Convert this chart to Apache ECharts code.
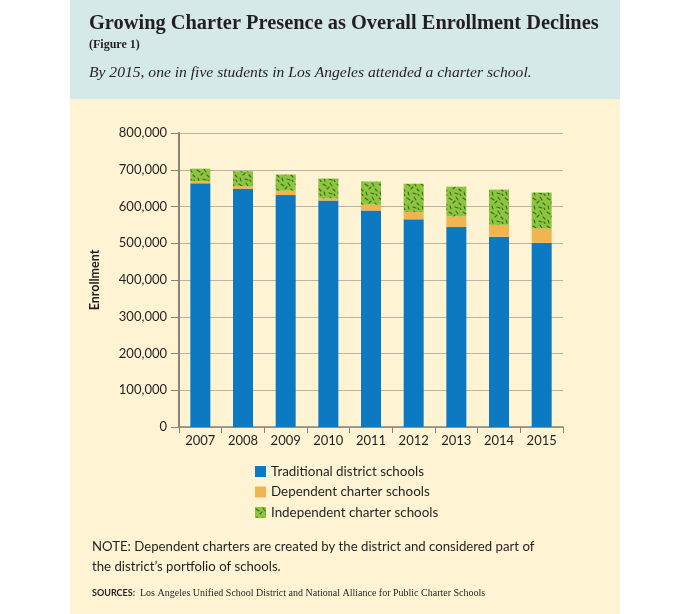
<!DOCTYPE html>
<html><head><meta charset="utf-8">
<script src="https://cdn.jsdelivr.net/npm/echarts@6/dist/echarts.min.js"></script>
<style>html,body{margin:0;padding:0;background:#fff}#c{width:690px;height:614px}</style>
</head><body><div id="c"></div>
<script>
const years = ['2007','2008','2009','2010','2011','2012','2013','2014','2015'];
const traditional = [663000, 648000, 631000, 616000, 589000, 565000, 544000, 518000, 501000];
const dependent = [6000, 7000, 12000, 6000, 16000, 20000, 29000, 32000, 39000];
const independent = [34000, 41000, 44000, 54000, 63000, 77000, 81000, 96000, 98000];
const seriesNames = ['Traditional district schools','Dependent charter schools','Independent charter schools'];
const yTicks = [0,100000,200000,300000,400000,500000,600000,700000,800000];

function makePattern(){
  const c = document.createElement('canvas');
  c.width = 14; c.height = 14;
  const g = c.getContext('2d');
  g.fillStyle = '#8cc540'; g.fillRect(0,0,14,14);
  g.strokeStyle = '#3d6a1c'; g.lineWidth = 1.1; g.lineCap='round';
  const segs = [[1,2,4,4],[8,1,10,4],[5,7,7,5],[11,7,13,9],[2,10,3,13],[7,11,10,12],[12,12,13,13.8]];
  segs.forEach(s=>{g.beginPath();g.moveTo(s[0],s[1]);g.lineTo(s[2],s[3]);g.stroke();});
  return {image:c, repeat:'repeat'};
}
const greenPattern = makePattern();

const chart = echarts.init(document.getElementById('c'), null, {renderer:'canvas'});
const txt = '#231f20';
const sans = 'Lato, "Open Sans", sans-serif';
chart.setOption({
  backgroundColor:'#ffffff',
  animation:false,
  graphic:[
    {type:'rect', z:-10, shape:{x:70,y:0,width:550,height:99}, style:{fill:'#d5e9e8'}},
    {type:'rect', z:-10, shape:{x:70,y:99,width:550,height:515}, style:{fill:'#fef4d4'}},
    {type:'text', left:89, top:14, style:{text:'Growing Charter Presence as Overall Enrollment Declines', font:'bold 20.4px "Liberation Serif", serif', fill:txt}},
    {type:'text', left:89, top:39, style:{text:'(Figure 1)', font:'bold 12px "Liberation Serif", serif', fill:txt}},
    {type:'text', left:89, top:65, style:{text:'By 2015, one in five students in Los Angeles attended a charter school.', font:'italic 15.6px "Liberation Serif", serif', fill:txt}},
    {type:'text', left:92, top:540, style:{text:'NOTE: Dependent charters are created by the district and considered part of', font:'13.2px '+sans, fill:txt}},
    {type:'text', left:92, top:560, style:{text:'the district\u2019s portfolio of schools.', font:'13.2px '+sans, fill:txt}},
    {type:'text', left:92, top:589, style:{text:'SOURCES:', font:'bold 9px '+sans, fill:txt}},
    {type:'text', left:140, top:588, style:{text:'Los Angeles Unified School District and National Alliance for Public Charter Schools', font:'10px "Liberation Serif", serif', fill:txt}}
  ],
  legend:{
    orient:'vertical', left:255, top:465, padding:0, itemWidth:11, itemHeight:11, itemGap:7.5,
    icon:'rect', data:seriesNames,
    textStyle:{fontFamily:sans, fontSize:13.4, color:txt}
  },
  grid:{left:179, right:127, top:133, bottom:187},
  xAxis:{
    type:'category', data:years,
    axisLine:{lineStyle:{color:'#8a8476', width:1.5}},
    axisTick:{show:true, length:6, lineStyle:{color:'#8a8476'}},
    axisLabel:{fontFamily:sans, fontSize:13, color:txt, margin:7}
  },
  yAxis:{
    type:'value', min:0, max:800000, interval:100000,
    name:'Enrollment', nameLocation:'middle', nameGap:78, nameRotate:90,
    nameTextStyle:{fontFamily:sans, fontSize:12.5, fontWeight:'bold', color:txt},
    axisLine:{show:true, lineStyle:{color:'#8a8476', width:2}},
    axisTick:{show:true, length:8, lineStyle:{color:'#8a8476'}},
    axisLabel:{fontFamily:sans, fontSize:13, color:txt, margin:12, formatter:v=>v.toLocaleString('en-US')},
    splitLine:{lineStyle:{color:'#b9b4a6', width:1}}
  },
  series:[
    {name:seriesNames[0], type:'bar', stack:'a', barWidth:20, data:traditional, itemStyle:{color:'#0b7ac2'}},
    {name:seriesNames[1], type:'bar', stack:'a', barWidth:20, data:dependent, itemStyle:{color:'#f0b450'}},
    {name:seriesNames[2], type:'bar', stack:'a', barWidth:20, data:independent, itemStyle:{color:greenPattern}}
  ]
});
</script></body></html>
